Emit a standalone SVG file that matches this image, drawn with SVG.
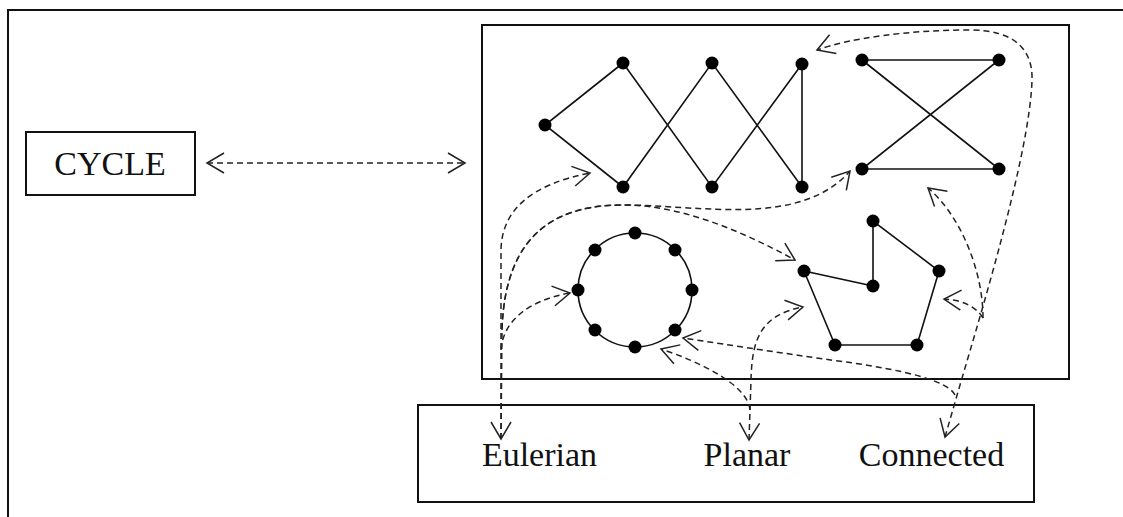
<svg xmlns="http://www.w3.org/2000/svg" width="1123" height="517" viewBox="0 0 1123 517">
<defs>
<style>
.box{fill:none;stroke:#111;stroke-width:2}
.edge{fill:none;stroke:#111;stroke-width:1.6}
.dot{fill:#000}
.con{fill:none;stroke:#222;stroke-width:1.5;stroke-dasharray:6 4}
.lbl{font-family:"Liberation Serif","Times New Roman",serif;font-size:34px;fill:#111;text-anchor:middle}
</style>
<marker id="ah" markerUnits="userSpaceOnUse" markerWidth="24" markerHeight="24" viewBox="-20 -12 24 24" refX="0" refY="0" orient="auto-start-reverse">
<path d="M-17,-10 L0,0 L-17,10" fill="none" stroke="#222" stroke-width="1.5"/>
</marker>
</defs>
<rect x="0" y="0" width="1123" height="517" fill="#fff"/>
<rect id="frame" class="box" x="8" y="10" width="1130" height="520"/>

<g id="cycle">
<rect class="box" x="26" y="132" width="169" height="63"/>
<text class="lbl" x="110" y="175">CYCLE</text>
</g>

<g id="graphs">
<rect class="box" x="482" y="25" width="587" height="354"/>
</g>

<g id="zigzag">
<polyline class="edge" points="623,63 545,125 623,187 712,63 802,187 802,64 712,187 623,63"/>
<circle class="dot" cx="545" cy="125" r="6.5"/>
<circle class="dot" cx="623" cy="63" r="6.5"/>
<circle class="dot" cx="712" cy="63" r="6.5"/>
<circle class="dot" cx="802" cy="64" r="6.5"/>
<circle class="dot" cx="623" cy="187" r="6.5"/>
<circle class="dot" cx="712" cy="187" r="6.5"/>
<circle class="dot" cx="802" cy="187" r="6.5"/>
</g>

<g id="bowtie">
<polyline class="edge" points="862,60 999,60 862,169 999,169 862,60"/>
<circle class="dot" cx="862" cy="60" r="6.5"/>
<circle class="dot" cx="999" cy="60" r="6.5"/>
<circle class="dot" cx="862" cy="169" r="6.5"/>
<circle class="dot" cx="999" cy="169" r="6.5"/>
</g>

<g id="ring">
<circle class="edge" cx="635" cy="290" r="57"/>
<circle class="dot" cx="635" cy="233" r="6.5"/>
<circle class="dot" cx="595" cy="250" r="6.5"/>
<circle class="dot" cx="675" cy="250" r="6.5"/>
<circle class="dot" cx="578" cy="290" r="6.5"/>
<circle class="dot" cx="692" cy="290" r="6.5"/>
<circle class="dot" cx="595" cy="330" r="6.5"/>
<circle class="dot" cx="675" cy="330" r="6.5"/>
<circle class="dot" cx="635" cy="347" r="6.5"/>
</g>

<g id="pentagon">
<polyline class="edge" points="804,271 873,286 873,221 939,271 917,345 835,345 804,271"/>
<circle class="dot" cx="804" cy="271" r="6.5"/>
<circle class="dot" cx="873" cy="221" r="6.5"/>
<circle class="dot" cx="873" cy="286" r="6.5"/>
<circle class="dot" cx="939" cy="271" r="6.5"/>
<circle class="dot" cx="917" cy="345" r="6.5"/>
<circle class="dot" cx="835" cy="345" r="6.5"/>
</g>

<g id="properties">
<rect class="box" x="418" y="405" width="616" height="97"/>
<text class="lbl" x="539.5" y="466">Eulerian</text>
<text class="lbl" x="747" y="466">Planar</text>
<text class="lbl" x="931.5" y="466">Connected</text>
</g>

<g id="connectors">
<path class="con" d="M207,163 L465,163" marker-start="url(#ah)" marker-end="url(#ah)"/>
<!-- Eulerian -->
<path class="con" d="M501,439 L501,250 Q502,190 590,173" marker-start="url(#ah)" marker-end="url(#ah)"/>
<path class="con" d="M501,439 L502,330 C505,230 560,205 623,205 C700,205 800,228 850,171" marker-end="url(#ah)"/>
<path class="con" d="M502,330 C505,230 560,205 623,205 C680,205 740,230 795,260" marker-end="url(#ah)"/>
<path class="con" d="M501,350 C503,320 530,300 570,293" marker-end="url(#ah)"/>
<!-- Planar -->
<path class="con" d="M749,440 L751,380 C752,340 760,315 803,307" marker-start="url(#ah)" marker-end="url(#ah)"/>
<path class="con" d="M750,410 C748,385 700,362 661,349" marker-end="url(#ah)"/>
<!-- Connected -->
<path class="con" d="M945,437 L960,385 C985,300 1030,150 1032,80 C1033,50 1015,30 970,30 C910,30 850,38 817,50" marker-start="url(#ah)" marker-end="url(#ah)"/>
<path class="con" d="M983,318 C975,305 960,300 944,299" marker-end="url(#ah)"/>
<path class="con" d="M983,318 C983,270 960,215 928,188" marker-end="url(#ah)"/>
<path class="con" d="M955,395 C948,380 900,370 853,363 C800,356 730,345 683,338" marker-end="url(#ah)"/>
</g>
</svg>
